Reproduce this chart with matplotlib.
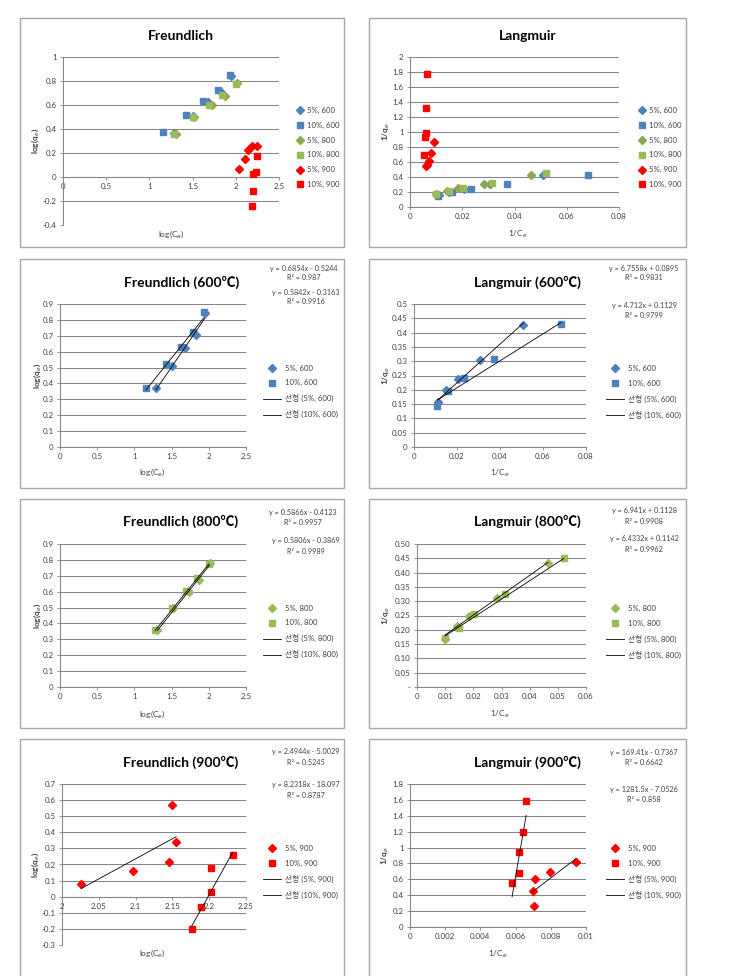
import numpy as np
import matplotlib.pyplot as plt
from matplotlib.patches import Rectangle
from matplotlib.ticker import MultipleLocator, FuncFormatter

plt.rcParams['font.family'] = ['Lato', 'Noto Sans CJK KR', 'DejaVu Sans']

W, H = 729, 976

# ---- Freundlich data: log(Ce), log(qe) ----
f600_5_x = [1.29, 1.50, 1.68, 1.83, 1.95]
f600_5_y = [0.369, 0.512, 0.621, 0.705, 0.845]
f600_10_x = [1.156, 1.42, 1.626, 1.79, 1.935]
f600_10_y = [0.373, 0.52, 0.631, 0.722, 0.848]

f800_5_x = [1.31, 1.52, 1.73, 1.87, 2.01]
f800_5_y = [0.36, 0.50, 0.60, 0.675, 0.78]
f800_10_x = [1.28, 1.50, 1.69, 1.84, 2.00]
f800_10_y = [0.356, 0.497, 0.602, 0.686, 0.776]

# 900 series as shown in the overview chart
f900a_5_x = [2.04, 2.11, 2.145, 2.19, 2.24]
f900a_5_y = [0.067, 0.147, 0.225, 0.26, 0.258]
f900a_10_x = [2.19, 2.20, 2.20, 2.23, 2.25]
f900a_10_y = [-0.242, -0.114, 0.025, 0.044, 0.175]

# 900 series as shown in the Freundlich (900) chart
f900_5_x = [2.026, 2.097, 2.145, 2.149, 2.155]
f900_5_y = [0.08, 0.157, 0.215, 0.57, 0.338]
f900_10_x = [2.176, 2.189, 2.203, 2.203, 2.232]
f900_10_y = [-0.198, -0.066, 0.028, 0.18, 0.26]

# ---- Langmuir data: 1/Ce, 1/qe ----
l600_5_x = [0.0112, 0.0151, 0.0206, 0.0306, 0.0509]
l600_5_y = [0.158, 0.199, 0.238, 0.305, 0.427]
l600_10_x = [0.0109, 0.0159, 0.0232, 0.0373, 0.0683]
l600_10_y = [0.145, 0.197, 0.240, 0.307, 0.430]

l800_5_x = [0.0100, 0.0142, 0.0184, 0.0284, 0.0465]
l800_5_y = [0.168, 0.212, 0.250, 0.311, 0.433]
l800_10_x = [0.0100, 0.0148, 0.0201, 0.0313, 0.0521]
l800_10_y = [0.172, 0.208, 0.255, 0.325, 0.451]

l900a_5_x = [0.0062, 0.0066, 0.0074, 0.0080, 0.0093]
l900a_5_y = [0.55, 0.565, 0.61, 0.72, 0.865]
l900a_10_x = [0.0054, 0.0057, 0.0060, 0.0061, 0.0064]
l900a_10_y = [0.69, 0.94, 0.99, 1.32, 1.77]

l900_5_x = [0.00697, 0.00705, 0.0071, 0.00795, 0.00943]
l900_5_y = [0.45, 0.27, 0.60, 0.69, 0.82]
l900_10_x = [0.0058, 0.0062, 0.0062, 0.0064, 0.0066]
l900_10_y = [0.56, 0.68, 0.95, 1.19, 1.59]

# trendline coefficients: (slope, intercept, R2) for 5% and 10%
fit_f600 = [(0.6854, -0.5244, 0.987), (0.5842, -0.3163, 0.9916)]
fit_l600 = [(6.7558, 0.0895, 0.9831), (4.712, 0.1129, 0.9799)]
fit_f800 = [(0.5866, -0.4123, 0.9957), (0.5806, -0.3869, 0.9989)]
fit_l800 = [(6.941, 0.1128, 0.9908), (6.4332, 0.1142, 0.9962)]
fit_f900 = [(2.4944, -5.0029, 0.5245), (8.2318, -18.097, 0.8787)]
fit_l900 = [(169.41, -0.7367, 0.6642), (1281.5, -7.0526, 0.858)]

BLUE = '#4F81BD'
OLIVE = '#8EA64E'
LGREEN = '#9BBB59'
RED = '#FF0000'
GRID = '#868686'
TXT = '#404040'

fig = plt.figure(figsize=(W / 100, H / 100), dpi=100)
fig.patch.set_facecolor('white')


def fx(x):
    return x / W


def fy(y):
    return 1 - y / H


def make_box(l, t, r, b):
    fig.patches.append(Rectangle((fx(l), fy(b)), fx(r) - fx(l), fy(t) - fy(b),
                                 transform=fig.transFigure, fill=False,
                                 ec='#A6A6A6', lw=1.0))


def fmt_g(v, pos):
    v = round(v, 6)
    if v == 0:
        return '0'
    return f'{v:g}'


def fmt_acc(v, pos):
    v = round(v, 6)
    if v == 0:
        return '-'
    return f'{v:.2f}'


def make_ax(rect, xlim, ylim, xstep, ystep, title, tpos, xlab, xlpos, ylab, ylpos,
            yfmt=fmt_g, cross0=False):
    l, t, r, b = rect
    ax = fig.add_axes([fx(l), fy(b), fx(r) - fx(l), fy(t) - fy(b)])
    ax.set_xlim(xlim)
    ax.set_ylim(ylim)
    ax.xaxis.set_major_locator(MultipleLocator(xstep))
    ax.yaxis.set_major_locator(MultipleLocator(ystep))
    ax.xaxis.set_major_formatter(FuncFormatter(fmt_g))
    ax.yaxis.set_major_formatter(FuncFormatter(yfmt))
    ax.grid(axis='y', color=GRID, lw=0.75)
    ax.set_axisbelow(True)
    for s in ['top', 'right']:
        ax.spines[s].set_visible(False)
    for s in ['left', 'bottom']:
        ax.spines[s].set_color(GRID)
        ax.spines[s].set_linewidth(0.75)
    if cross0:
        ax.spines['bottom'].set_position(('data', 0))
    ax.tick_params(labelsize=5.7, labelcolor=TXT, color=GRID, length=2.5, width=0.6, pad=2)
    fig.text(fx(tpos[0]), fy(tpos[1]), title, ha='center', va='center',
             fontsize=10, fontweight='bold', color='black')
    ax.set_xlabel(xlab, fontsize=6, color=TXT)
    ax.xaxis.set_label_coords(fx(xlpos[0]), fy(xlpos[1]), transform=fig.transFigure)
    ax.xaxis.label.set_va('center')
    ax.set_ylabel(ylab, fontsize=6, color=TXT, fontweight='bold')
    ax.yaxis.set_label_coords(fx(ylpos[0]), fy(ylpos[1]), transform=fig.transFigure)
    ax.yaxis.label.set_va('center')
    return ax


def scatter(ax, x, y, marker, color, label):
    ms = 3.6 if marker == 'D' else 4.1
    ax.plot(x, y, ls='none', marker=marker, ms=ms, color=color, mec=color,
            label=label, zorder=3)


def trend(ax, x, coef, label):
    xs = np.array([min(x), max(x)])
    ax.plot(xs, coef[0] * xs + coef[1], color='black', lw=0.6, label=label, zorder=4)


def equations(coefs, pos):
    for (m, c, r2), (px, py1, py2) in zip(coefs, pos):
        sign = '+' if c >= 0 else '-'
        fig.text(fx(px), fy(py1), f'y = {m:g}x {sign} {abs(c):g}', ha='center',
                 va='center', fontsize=5.2, color=TXT)
        fig.text(fx(px), fy(py2), f'R² = {r2:g}', ha='center', va='center',
                 fontsize=5.2, color=TXT)


def legend(ax, lx, ly, hl):
    ax.legend(loc='center left', bbox_to_anchor=(fx(lx), fy(ly)),
              bbox_transform=fig.transFigure, frameon=False, fontsize=5.6,
              labelspacing=1.0, handlelength=hl, handletextpad=0.5,
              borderpad=0, borderaxespad=0, labelcolor=TXT)


LQ = r'log(q$_e$)'
LC = r'log(C$_e$)'
IQ = r'1/q$_e$'
IC = r'1/C$_e$'

# ---- Row 1: overview charts ----
make_box(20, 18, 344, 247)
ax1 = make_ax((63, 57, 279, 225), (0, 2.5), (-0.4, 1), 0.5, 0.2, 'Freundlich', (181, 36),
              LC, (171, 234), LQ, (35, 141), cross0=True)
scatter(ax1, f600_5_x, f600_5_y, 'D', BLUE, '5%, 600')
scatter(ax1, f600_10_x, f600_10_y, 's', BLUE, '10%, 600')
scatter(ax1, f800_5_x, f800_5_y, 'D', OLIVE, '5%, 800')
scatter(ax1, f800_10_x, f800_10_y, 's', LGREEN, '10%, 800')
scatter(ax1, f900a_5_x, f900a_5_y, 'D', RED, '5%, 900')
scatter(ax1, f900a_10_x, f900a_10_y, 's', RED, '10%, 900')
legend(ax1, 296, 147.5, 0.9)

make_box(369, 18, 686, 247)
ax2 = make_ax((410, 57, 619, 207), (0, 0.08), (0, 2), 0.02, 0.2, 'Langmuir', (528, 36),
              IC, (518, 234), IQ, (386, 132))
scatter(ax2, l600_5_x, l600_5_y, 'D', BLUE, '5%, 600')
scatter(ax2, l600_10_x, l600_10_y, 's', BLUE, '10%, 600')
scatter(ax2, l800_5_x, l800_5_y, 'D', OLIVE, '5%, 800')
scatter(ax2, l800_10_x, l800_10_y, 's', LGREEN, '10%, 800')
scatter(ax2, l900a_5_x, l900a_5_y, 'D', RED, '5%, 900')
scatter(ax2, l900a_10_x, l900a_10_y, 's', RED, '10%, 900')
legend(ax2, 638, 147.5, 0.9)

# ---- Row 2: 600 ----
make_box(20, 259, 344, 488)
ax3 = make_ax((60, 304, 246, 447), (0, 2.5), (0, 0.9), 0.5, 0.1, 'Freundlich (600℃)',
              (181.7, 282.7), LC, (152, 472), LQ, (37, 375.5))
scatter(ax3, f600_5_x, f600_5_y, 'D', BLUE, '5%, 600')
scatter(ax3, f600_10_x, f600_10_y, 's', BLUE, '10%, 600')
trend(ax3, f600_5_x, fit_f600[0], '선형 (5%, 600)')
trend(ax3, f600_10_x, fit_f600[1], '선형 (10%, 600)')
legend(ax3, 263, 391.5, 2.3)
equations(fit_f600, [(304, 269, 277.5), (306, 292.7, 301)])

make_box(369, 259, 686, 488)
ax4 = make_ax((414, 304, 586, 447), (0, 0.08), (0, 0.5), 0.02, 0.05, 'Langmuir (600℃)',
              (527.5, 282), IC, (500, 473), IQ, (386, 375.5))
scatter(ax4, l600_5_x, l600_5_y, 'D', BLUE, '5%, 600')
scatter(ax4, l600_10_x, l600_10_y, 's', BLUE, '10%, 600')
trend(ax4, l600_5_x, fit_l600[0], '선형 (5%, 600)')
trend(ax4, l600_10_x, fit_l600[1], '선형 (10%, 600)')
legend(ax4, 606, 392, 2.3)
equations(fit_l600, [(644, 269, 277.5), (644, 305.7, 315)])

# ---- Row 3: 800 ----
make_box(20, 499, 344, 728)
ax5 = make_ax((60, 544, 246, 687), (0, 2.5), (0, 0.9), 0.5, 0.1, 'Freundlich (800℃)',
              (181, 521.7), LC, (152, 714.5), LQ, (37, 615.5))
scatter(ax5, f800_5_x, f800_5_y, 'D', LGREEN, '5%, 800')
scatter(ax5, f800_10_x, f800_10_y, 's', LGREEN, '10%, 800')
trend(ax5, f800_5_x, fit_f800[0], '선형 (5%, 800)')
trend(ax5, f800_10_x, fit_f800[1], '선형 (10%, 800)')
legend(ax5, 263, 631.5, 2.3)
equations(fit_f800, [(303, 513, 522.3), (306, 541, 551)])

make_box(369, 499, 686, 728)
ax6 = make_ax((417, 544, 586, 687), (0, 0.06), (0, 0.5), 0.01, 0.05, 'Langmuir (800℃)',
              (527.5, 521.7), IC, (500, 714.5), IQ, (386, 615.5), yfmt=fmt_acc)
scatter(ax6, l800_5_x, l800_5_y, 'D', LGREEN, '5%, 800')
scatter(ax6, l800_10_x, l800_10_y, 's', LGREEN, '10%, 800')
trend(ax6, l800_5_x, fit_l800[0], '선형 (5%, 800)')
trend(ax6, l800_10_x, fit_l800[1], '선형 (10%, 800)')
legend(ax6, 606, 632, 2.3)
equations(fit_l800, [(644, 511, 521.7), (644, 539, 550)])

# ---- Row 4: 900 ----
make_box(20, 739, 344, 1000)
ax7 = make_ax((62, 784, 246, 945), (2, 2.25), (-0.3, 0.7), 0.05, 0.1, 'Freundlich (900℃)',
              (181, 762), LC, (152, 953), LQ, (35, 864.5), cross0=True)
scatter(ax7, f900_5_x, f900_5_y, 'D', RED, '5%, 900')
scatter(ax7, f900_10_x, f900_10_y, 's', RED, '10%, 900')
trend(ax7, f900_5_x, fit_f900[0], '선형 (5%, 900)')
trend(ax7, f900_10_x, fit_f900[1], '선형 (10%, 900)')
legend(ax7, 263, 872, 2.3)
equations(fit_f900, [(305.8, 751.7, 762.3), (305.8, 784.3, 795)])

make_box(369, 739, 686, 1000)
ax8 = make_ax((410, 784, 586, 927), (0, 0.01), (0, 1.8), 0.002, 0.2, 'Langmuir (900℃)',
              (527, 762), IC, (498, 954), IQ, (385, 855.5))
scatter(ax8, l900_5_x, l900_5_y, 'D', RED, '5%, 900')
scatter(ax8, l900_10_x, l900_10_y, 's', RED, '10%, 900')
trend(ax8, l900_5_x, fit_l900[0], '선형 (5%, 900)')
trend(ax8, l900_10_x, fit_l900[1], '선형 (10%, 900)')
legend(ax8, 606, 871.7, 2.3)
equations(fit_l900, [(644, 752, 762.7), (644, 789.3, 799.3)])

fig.savefig('out.png', dpi=100)
